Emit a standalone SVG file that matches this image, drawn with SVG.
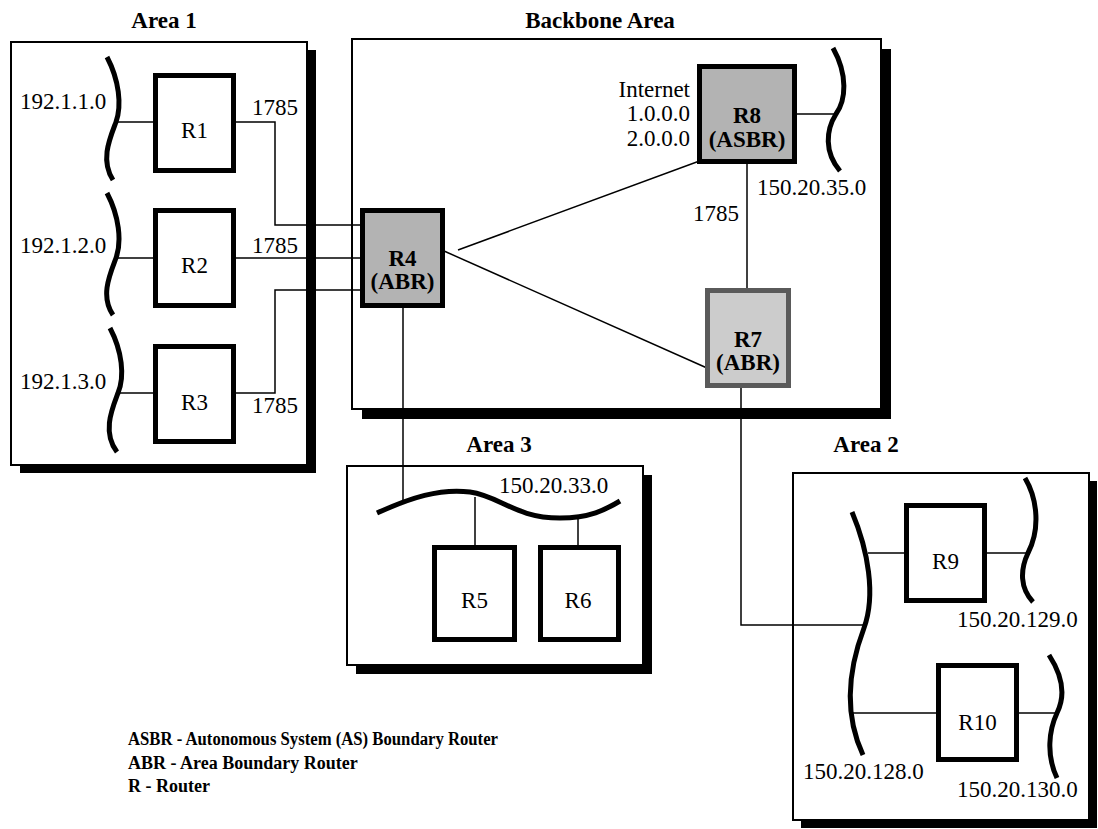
<svg xmlns="http://www.w3.org/2000/svg" width="1098" height="829" viewBox="0 0 1098 829" font-family="'Liberation Serif', 'DejaVu Serif', serif">
<style>
.shadow{fill:#000}
.area{fill:#fff;stroke:#000;stroke-width:2}
.rt{fill:#fff;stroke:#000;stroke-width:5}
.rtd{fill:#b3b3b3;stroke:#000;stroke-width:5}
.rtl{fill:#cccccc;stroke:#5a5a5a;stroke-width:5}
.ln{fill:none;stroke:#000;stroke-width:1.5}
.net{fill:none;stroke:#000;stroke-width:5}
.t{font-size:23px;font-family:'Liberation Serif','DejaVu Serif',serif}
.b{font-size:23px;font-weight:bold;font-family:'Liberation Serif','DejaVu Serif',serif}
.c{text-anchor:middle}
.e{text-anchor:end}
.lg{font-size:18px;font-weight:bold;font-family:'Liberation Serif','DejaVu Serif',serif}
</style>
<rect width="1098" height="829" fill="#fff"/>
<g id="area1">
<rect class="shadow" x="20" y="50" width="296" height="423"/>
<rect class="area" x="11" y="42" width="296" height="423"/>
<text class="b c" x="164" y="28">Area 1</text>
</g>
<g id="backbone">
<rect class="shadow" x="362" y="49" width="529" height="370"/>
<rect class="area" x="352" y="39" width="529" height="370"/>
<text class="b c" x="600" y="28">Backbone Area</text>
</g>
<g id="area3">
<rect class="shadow" x="356" y="475" width="296" height="199"/>
<rect class="area" x="347" y="466" width="296" height="199"/>
<text class="b c" x="499" y="452">Area 3</text>
</g>
<g id="area2">
<rect class="shadow" x="801" y="481" width="296" height="347"/>
<rect class="area" x="793" y="473" width="296" height="347"/>
<text class="b c" x="866" y="452">Area 2</text>
</g>
<g id="connectors">
<polyline class="ln" points="236,122 275,122 275,225 360,225"/>
<line class="ln" x1="236" y1="258" x2="360" y2="258"/>
<polyline class="ln" points="236,393 275,393 275,290 360,290"/>
<line class="ln" x1="115" y1="122" x2="153" y2="122"/>
<line class="ln" x1="116" y1="258" x2="153" y2="258"/>
<line class="ln" x1="118" y1="393" x2="153" y2="393"/>
<line class="ln" x1="458" y1="250" x2="713" y2="156"/>
<line class="ln" x1="444" y1="251" x2="707" y2="368"/>
<line class="ln" x1="747" y1="164" x2="747" y2="288"/>
<line class="ln" x1="797" y1="114" x2="836" y2="114"/>
<line class="ln" x1="403" y1="308" x2="403" y2="502"/>
<line class="ln" x1="475" y1="497" x2="475" y2="545"/>
<line class="ln" x1="578" y1="518" x2="578" y2="545"/>
<polyline class="ln" points="741,388 741,625 866,625"/>
<line class="ln" x1="868" y1="553" x2="904" y2="553"/>
<line class="ln" x1="987" y1="553" x2="1028" y2="553"/>
<line class="ln" x1="851" y1="713" x2="936" y2="713"/>
<line class="ln" x1="1019" y1="713" x2="1057" y2="713"/>
</g>
<g id="networks">
<path class="net" d="M107,57 C119,80 122,105 116,122 C110,138 100,160 113,180"/>
<path class="net" d="M107,193 C119,216 122,241 116,258 C110,274 100,296 113,315"/>
<path class="net" d="M110,328 C122,351 125,376 118,393 C112,409 102,432 117,452"/>
<path class="net" d="M833,48 C848,75 846,100 836,114 C826,130 824,152 840,171"/>
<path class="net" d="M377,513 C410,498 440,488 470,492 C500,496 515,518 560,518 C590,518 605,510 620,501"/>
<path class="net" d="M852,512 C868,550 876,595 864,628 C850,665 842,710 863,755"/>
<path class="net" d="M1025,478 C1038,500 1040,530 1028,553 C1020,570 1020,588 1033,602"/>
<path class="net" d="M1049,655 C1062,675 1066,695 1057,713 C1049,730 1046,755 1057,778"/>
</g>
<g id="R1"><rect class="rt" x="155.5" y="75.5" width="78" height="95"/><text class="t c" x="194.5" y="138">R1</text></g>
<g id="R2"><rect class="rt" x="155.5" y="210.5" width="78" height="95"/><text class="t c" x="194.5" y="273">R2</text></g>
<g id="R3"><rect class="rt" x="155.5" y="346.5" width="78" height="95"/><text class="t c" x="194.5" y="410">R3</text></g>
<g id="R4"><rect class="rtd" x="362.5" y="210.5" width="80" height="95"/><text class="b c" x="402.5" y="266">R4</text><text class="b c" x="402.5" y="289">(ABR)</text></g>
<g id="R8"><rect class="rtd" x="699.5" y="66.5" width="95" height="95"/><text class="b c" x="747" y="123">R8</text><text class="b c" x="747" y="147">(ASBR)</text></g>
<g id="R7"><rect class="rtl" x="707.5" y="290.5" width="81" height="95"/><text class="b c" x="748" y="347">R7</text><text class="b c" x="748" y="370">(ABR)</text></g>
<g id="R5"><rect class="rt" x="434.5" y="547.5" width="80" height="92"/><text class="t c" x="474.5" y="608">R5</text></g>
<g id="R6"><rect class="rt" x="540.5" y="547.5" width="78" height="92"/><text class="t c" x="578" y="608">R6</text></g>
<g id="R9"><rect class="rt" x="906.5" y="505.5" width="78" height="95"/><text class="t c" x="945.5" y="569">R9</text></g>
<g id="R10"><rect class="rt" x="938.5" y="665.5" width="78" height="94"/><text class="t c" x="977.5" y="730">R10</text></g>
<g id="labels">
<text class="t" x="20" y="109">192.1.1.0</text>
<text class="t" x="20" y="253">192.1.2.0</text>
<text class="t" x="20" y="389">192.1.3.0</text>
<text class="t" x="252" y="115">1785</text>
<text class="t" x="252" y="253">1785</text>
<text class="t" x="252" y="413">1785</text>
<text class="t e" x="690" y="97">Internet</text>
<text class="t e" x="690" y="121">1.0.0.0</text>
<text class="t e" x="690" y="146">2.0.0.0</text>
<text class="t" x="757" y="195">150.20.35.0</text>
<text class="t" x="693" y="221">1785</text>
<text class="t" x="499" y="493">150.20.33.0</text>
<text class="t" x="957" y="627">150.20.129.0</text>
<text class="t" x="803" y="779">150.20.128.0</text>
<text class="t" x="957" y="797">150.20.130.0</text>
</g>
<g id="legend">
<text class="lg" x="128" y="745" textLength="370" lengthAdjust="spacingAndGlyphs">ASBR - Autonomous System (AS) Boundary Router</text>
<text class="lg" x="128" y="769">ABR - Area Boundary Router</text>
<text class="lg" x="128" y="792">R - Router</text>
</g>
</svg>
